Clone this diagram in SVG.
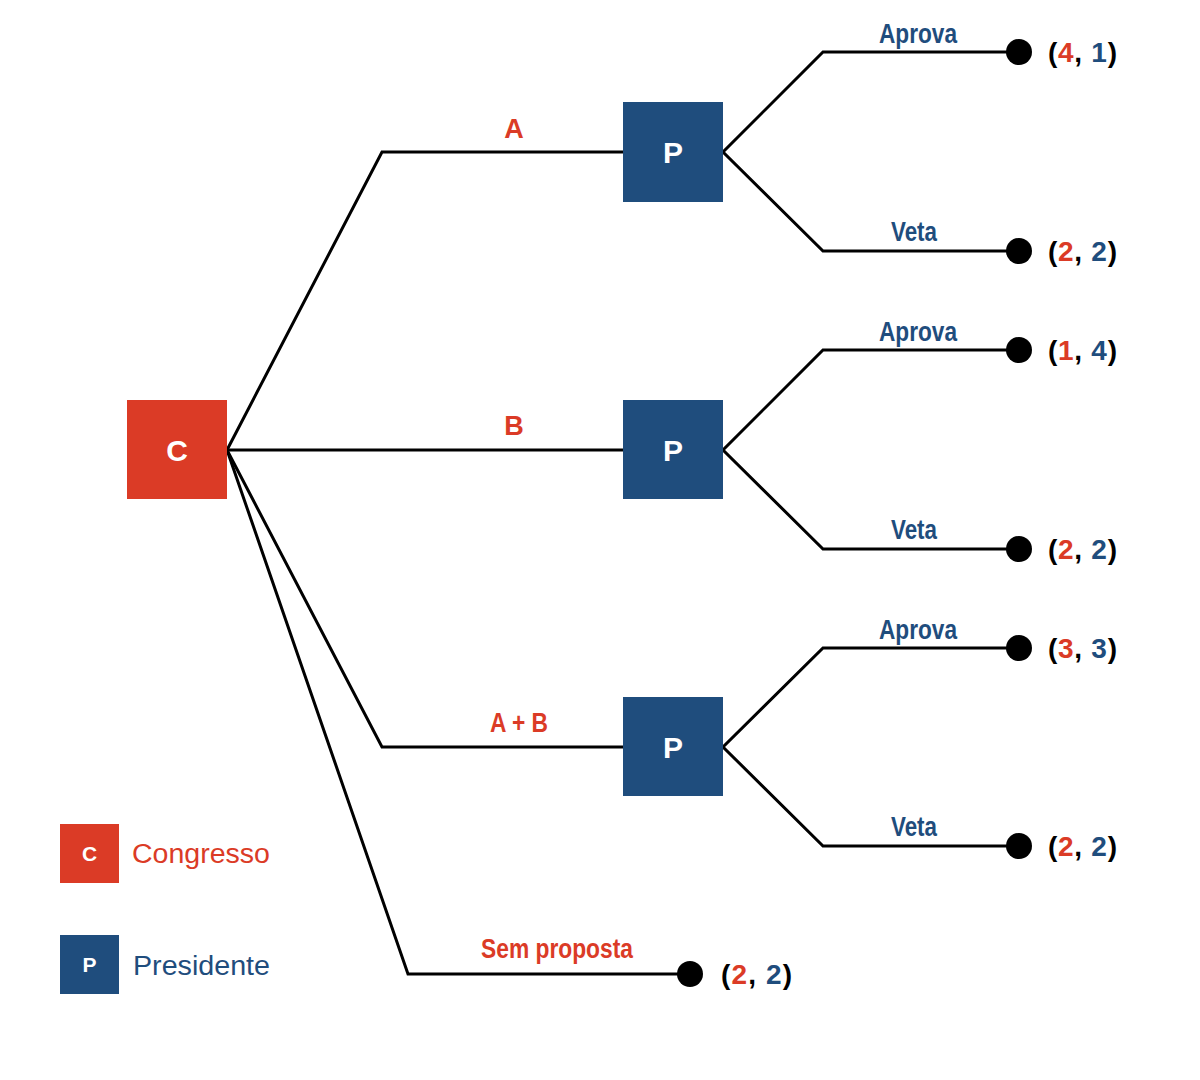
<svg xmlns="http://www.w3.org/2000/svg" width="1200" height="1080" viewBox="0 0 1200 1080">
<style>
.r{fill:#db3b26}
.b{fill:#1f4d7d}
.k{fill:#000}
.edge{fill:none;stroke:#000;stroke-width:3;stroke-linejoin:miter}
.box{font-family:"Liberation Sans",Arial,sans-serif;font-size:30px;fill:#fff;text-anchor:middle;font-weight:bold}
.lbl{font-family:"Liberation Sans",Arial,sans-serif;font-size:27px;font-weight:bold}
.pay{font-family:"Liberation Sans",Arial,sans-serif;font-size:28px;font-weight:bold}
.leg{font-family:"Liberation Sans",Arial,sans-serif;font-size:27px}
.legbox{font-family:"Liberation Sans",Arial,sans-serif;font-size:21px;fill:#fff;text-anchor:middle;font-weight:bold}
</style>
<rect width="1200" height="1080" fill="#fff"/>
<g id="connectors">
<polyline class="edge" points="227,450 382,152 623,152"/>
<polyline class="edge" points="227,450 623,450"/>
<polyline class="edge" points="227,450 382,747 623,747"/>
<polyline class="edge" points="227,450 408,974 690,974"/>
<polyline class="edge" points="1019,52 823,52 723,152 823,251 1019,251"/>
<polyline class="edge" points="1019,350 823,350 723,450 823,549 1019,549"/>
<polyline class="edge" points="1019,648 823,648 723,747 823,846 1019,846"/>
</g>
<g id="edge-labels">
<text class="lbl r" x="514" y="138" text-anchor="middle">A</text>
<text class="lbl r" x="514" y="435" text-anchor="middle">B</text>
<text class="lbl r" x="490" y="732" textLength="58" lengthAdjust="spacingAndGlyphs">A + B</text>
<text class="lbl r" x="481" y="958" textLength="152" lengthAdjust="spacingAndGlyphs">Sem proposta</text>
<text class="lbl b" x="879" y="43" textLength="78" lengthAdjust="spacingAndGlyphs">Aprova</text>
<text class="lbl b" x="891" y="241" textLength="46" lengthAdjust="spacingAndGlyphs">Veta</text>
<text class="lbl b" x="879" y="341" textLength="78" lengthAdjust="spacingAndGlyphs">Aprova</text>
<text class="lbl b" x="891" y="539" textLength="46" lengthAdjust="spacingAndGlyphs">Veta</text>
<text class="lbl b" x="879" y="639" textLength="78" lengthAdjust="spacingAndGlyphs">Aprova</text>
<text class="lbl b" x="891" y="836" textLength="46" lengthAdjust="spacingAndGlyphs">Veta</text>
</g>
<g id="node-C">
<rect x="127" y="400" width="100" height="99" fill="#db3b26"/>
<text class="box" x="177" y="461">C</text>
</g>
<g id="node-P1">
<rect x="623" y="102" width="100" height="100" fill="#1f4d7d"/>
<text class="box" x="673" y="163">P</text>
</g>
<g id="node-P2">
<rect x="623" y="400" width="100" height="99" fill="#1f4d7d"/>
<text class="box" x="673" y="461">P</text>
</g>
<g id="node-P3">
<rect x="623" y="697" width="100" height="99" fill="#1f4d7d"/>
<text class="box" x="673" y="758">P</text>
</g>
<g id="leaf-1">
<circle cx="1019" cy="52" r="13" fill="#000"/>
<text class="pay" x="1048" y="62" textLength="69" lengthAdjust="spacing"><tspan class="k">(</tspan><tspan class="r">4</tspan><tspan class="k">, </tspan><tspan class="b">1</tspan><tspan class="k">)</tspan></text>
</g>
<g id="leaf-2">
<circle cx="1019" cy="251" r="13" fill="#000"/>
<text class="pay" x="1048" y="261" textLength="69" lengthAdjust="spacing"><tspan class="k">(</tspan><tspan class="r">2</tspan><tspan class="k">, </tspan><tspan class="b">2</tspan><tspan class="k">)</tspan></text>
</g>
<g id="leaf-3">
<circle cx="1019" cy="350" r="13" fill="#000"/>
<text class="pay" x="1048" y="360" textLength="69" lengthAdjust="spacing"><tspan class="k">(</tspan><tspan class="r">1</tspan><tspan class="k">, </tspan><tspan class="b">4</tspan><tspan class="k">)</tspan></text>
</g>
<g id="leaf-4">
<circle cx="1019" cy="549" r="13" fill="#000"/>
<text class="pay" x="1048" y="559" textLength="69" lengthAdjust="spacing"><tspan class="k">(</tspan><tspan class="r">2</tspan><tspan class="k">, </tspan><tspan class="b">2</tspan><tspan class="k">)</tspan></text>
</g>
<g id="leaf-5">
<circle cx="1019" cy="648" r="13" fill="#000"/>
<text class="pay" x="1048" y="658" textLength="69" lengthAdjust="spacing"><tspan class="k">(</tspan><tspan class="r">3</tspan><tspan class="k">, </tspan><tspan class="b">3</tspan><tspan class="k">)</tspan></text>
</g>
<g id="leaf-6">
<circle cx="1019" cy="846" r="13" fill="#000"/>
<text class="pay" x="1048" y="856" textLength="69" lengthAdjust="spacing"><tspan class="k">(</tspan><tspan class="r">2</tspan><tspan class="k">, </tspan><tspan class="b">2</tspan><tspan class="k">)</tspan></text>
</g>
<g id="leaf-7">
<circle cx="690" cy="974" r="13" fill="#000"/>
<text class="pay" x="721" y="984" textLength="71" lengthAdjust="spacing"><tspan class="k">(</tspan><tspan class="r">2</tspan><tspan class="k">, </tspan><tspan class="b">2</tspan><tspan class="k">)</tspan></text>
</g>
<g id="legend">
<rect x="60" y="824" width="59" height="59" fill="#db3b26"/>
<text class="legbox" x="89.500" y="861">C</text>
<text class="leg r" x="132" y="863" textLength="138" lengthAdjust="spacingAndGlyphs">Congresso</text>
<rect x="60" y="935" width="59" height="59" fill="#1f4d7d"/>
<text class="legbox" x="89.500" y="972">P</text>
<text class="leg b" x="133" y="975" textLength="137" lengthAdjust="spacingAndGlyphs">Presidente</text>
</g>
</svg>
